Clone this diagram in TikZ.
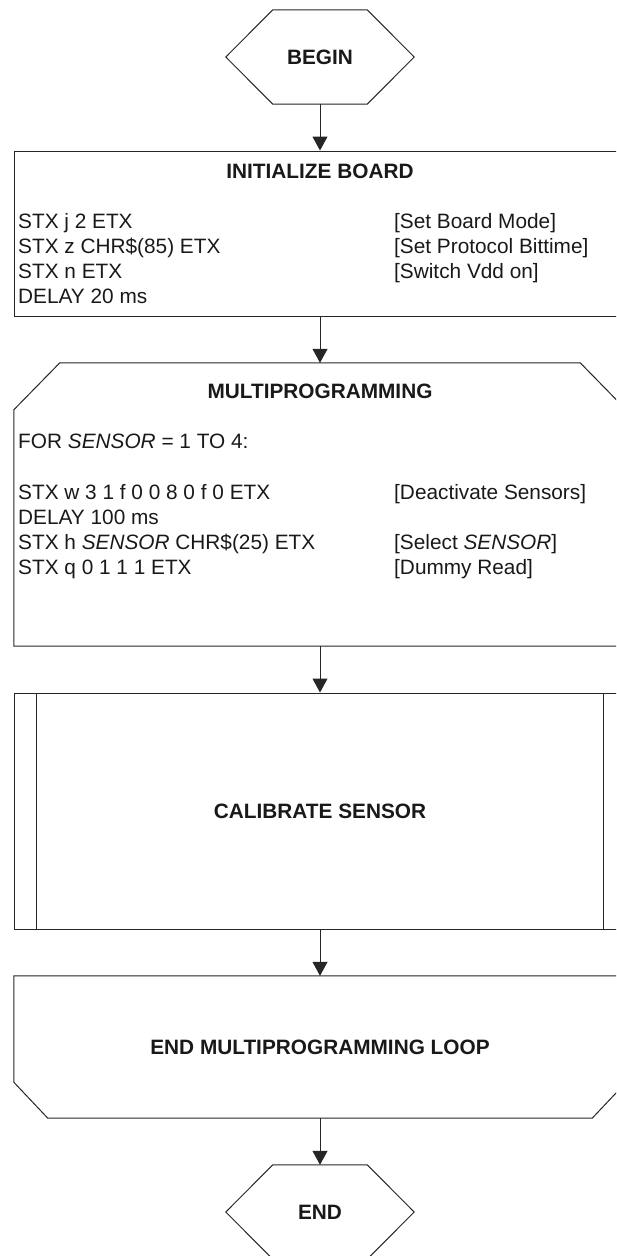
\documentclass[tikz,border=0pt]{standalone}
\usepackage{fontspec}
\setmainfont{Liberation Sans}
\usetikzlibrary{arrows.meta}

\begin{document}
\begin{tikzpicture}[x=1pt, y=-1pt,
    outline/.style={draw=black!85, line width=1pt},
    flow/.style={draw=black!85, line width=1pt, -{Triangle[length=14pt,width=15pt]}},
    txt/.style={font=\fontsize{20.8}{25}\selectfont, text=black!90, inner sep=0pt, align=left, anchor=north west},
    title/.style={font=\bfseries\fontsize{20.8}{25}\selectfont, text=black!90, inner sep=0pt, anchor=base},
    frame/.style={minimum width=612pt, inner sep=0pt, font=\bfseries\fontsize{20.8}{25}\selectfont, text=black!90},
    hexa/.style={minimum width=188pt, minimum height=94pt, inner sep=0pt, font=\bfseries\fontsize{20.8}{25}\selectfont, text=black!90}]
    \clip (0,0) rectangle (616,1256);

    \node[hexa] (begin) at (320,57) {BEGIN};
    \node[frame, outline, minimum height=165pt] (init) at (320,233.5) {};
    \node[frame, minimum height=283pt] (multi) at (320,504.5) {};
    \node[frame, outline, minimum height=236pt] (calib) at (320,811) {CALIBRATE SENSOR};
    \node[frame, minimum height=142pt] (endloop) at (320,1047) {END MULTIPROGRAMMING LOOP};
    \node[hexa] (end) at (320,1212) {END};

    % outlines
    \draw[outline] (begin.west) -- ([xshift=47pt]begin.north west) -- ([xshift=-47pt]begin.north east)
      -- (begin.east) -- ([xshift=-47pt]begin.south east) -- ([xshift=47pt]begin.south west) -- cycle;
    \draw[outline] (multi.south west) -- ([yshift=-47pt]multi.north west) -- ([xshift=46pt]multi.north west)
      -- ([xshift=-46pt]multi.north east) -- ([yshift=-47pt]multi.north east) -- (multi.south east) -- cycle;
    \draw[outline] ([xshift=23pt]calib.north west) -- ([xshift=23pt]calib.south west);
    \draw[outline] ([xshift=-23pt]calib.north east) -- ([xshift=-23pt]calib.south east);
    \draw[outline] (endloop.north west) -- (endloop.north east) -- ([yshift=36pt]endloop.south east)
      -- ([xshift=-34pt]endloop.south east) -- ([xshift=34pt]endloop.south west) -- ([yshift=36pt]endloop.south west) -- cycle;
    \draw[outline] (end.west) -- ([xshift=47pt]end.north west) -- ([xshift=-47pt]end.north east)
      -- (end.east) -- ([xshift=-47pt]end.south east) -- ([xshift=47pt]end.south west) -- cycle;

    % texts
    \node[title] (inittitle) at (320,178.5) {INITIALIZE BOARD};
    \node[txt] (initcmd) at (18,211) {\strut STX j 2 ETX\\STX z CHR\$(85) ETX\\STX n ETX\\DELAY 20 ms};
    \node[txt] (initnote) at (394,211) {\strut{[Set Board Mode]}\\{[Set Protocol Bittime]}\\{[Switch Vdd on]}};

    \node[title] (multititle) at (320,398.5) {MULTIPROGRAMMING};
    \node[txt] (multifor) at (18,431) {\strut FOR \textit{SENSOR} = 1 TO 4:};
    \node[txt] (multicmd) at (18,482) {\strut STX w 3 1 f 0 0 8 0 f 0 ETX\\DELAY 100 ms\\STX h \textit{SENSOR} CHR\$(25) ETX\\STX q 0 1 1 1 ETX};
    \node[txt] (multinote) at (394,482) {\strut{[Deactivate Sensors]}\\\mbox{}\\{[Select \textit{SENSOR}]}\\{[Dummy Read]}};

    % connectors
    \draw[flow] (begin) -- (init);
    \draw[flow] (init) -- (multi);
    \draw[flow] (multi) -- (calib);
    \draw[flow] (calib) -- (endloop);
    \draw[flow] (endloop) -- (end);
\end{tikzpicture}
\end{document}
